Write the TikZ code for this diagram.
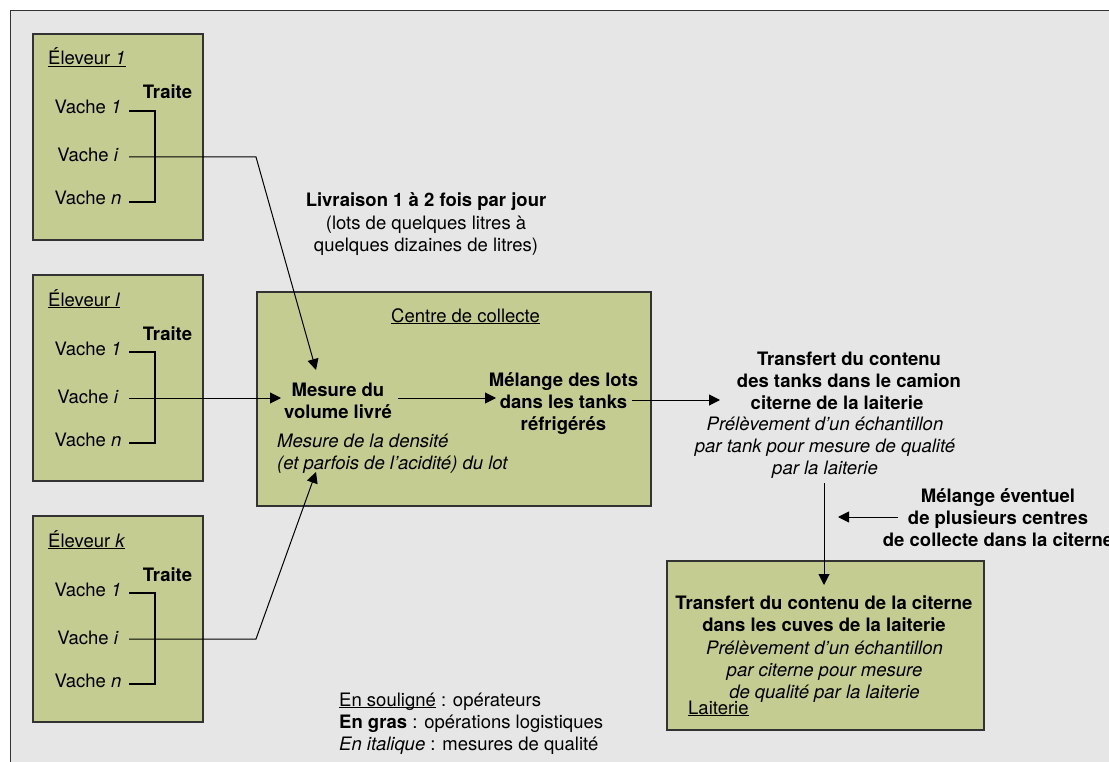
\documentclass[tikz,border=0pt]{standalone}
\usepackage{fontspec}
\setmainfont{TeX Gyre Heros}
\usetikzlibrary{arrows.meta}
\definecolor{bgray}{HTML}{E6E6E6}
\definecolor{boxfill}{HTML}{C4CC91}
\definecolor{boxline}{HTML}{333333}
\newcommand\myfont{\fontsize{18.5}{22.3}\selectfont}
\newcommand\ulu[1]{\underline{\raisebox{0pt}[\height][0pt]{#1}}}
\newcommand\eleveurbox[3]{%
  \node[box, minimum width=170pt, minimum height=206pt] (#1) at (32,#2) {};
  \node[txt, anchor=base west] (#1t) at (48,#2+32) {\ulu{Éleveur \textit{#3}}};
  \node[txtb] (#1tr) at (167.5,#2+66) {Traite};
  \node[txt] (#1a) at (88,#2+81) {Vache \textit{1}};
  \node[txt] (#1b) at (88,#2+129) {Vache \textit{i}};
  \node[txt] (#1c) at (88,#2+172) {Vache \textit{n}};
  \coordinate (#1pa) at (129,#2+78);
  \coordinate (#1pb) at (129,#2+124);
  \coordinate (#1pc) at (129,#2+169);
  \coordinate (#1q) at (155,#2+169);
  \draw[brk] (#1pa) -| (#1q) -- (#1pc);
}
\begin{document}
\begin{tikzpicture}[x=1pt,y=-1pt,
  every node/.style={inner sep=0pt, font=\myfont},
  txt/.style={anchor=base},
  txtb/.style={anchor=base, font=\myfont\bfseries},
  box/.style={draw=boxline, line width=1.6pt, fill=boxfill, anchor=north west},
  brk/.style={draw=black, line width=1.1pt},
  conn/.style={draw=black, line width=1pt},
  arr/.style={conn, -{Triangle[length=11pt,width=11pt]}},
]
\useasboundingbox (0,0) rectangle (1109,762);
\fill[white] (0,0) rectangle (1109,762);
\draw[fill=bgray, draw=black!80, line width=0.9pt] (10,10) rectangle (1140,800);

% boxes of farmers
\eleveurbox{ea}{33}{1}
\eleveurbox{eb}{274}{l}
\eleveurbox{ec}{515}{k}

% collection centre
\node[box, minimum width=394pt, minimum height=214pt] (cc) at (256,291) {};
\node[txt] (cct) at (465.5,322) {\ulu{Centre de collecte}};
\node[txtb, align=center] (mes) at (338,418.3) {Mesure du\\volume livré};
\node[txt, anchor=base west, align=left, font=\myfont\itshape] (dens) at (277,469.3) {Mesure de la densité\\(et parfois de l’acidité) du lot};
\node[txtb, align=center] (mel) at (563.5,430.6) {Mélange des lots\\dans les tanks\\réfrigérés};

% delivery label
\node[txt, align=center] (liv) at (426,251.6) {\textbf{Livraison 1 à 2 fois par jour}\\(lots de quelques litres à\\quelques dizaines de litres)};

% transfer to truck
\node[txtb, align=center] (tr) at (849,409.6) {Transfert du contenu\\des tanks dans le camion\\citerne de la laiterie\hspace*{24pt}};
\node[txt, align=center, font=\myfont\itshape] (trq) at (825,474.6) {Prélèvement d’un échantillon\\par tank pour mesure de qualité\\par la laiterie};

% mixing of several centres
\node[txtb, align=center] (mix) at (998,546.6) {Mélange éventuel\\de plusieurs centres\\de collecte dans la citerne};

% dairy
\node[box, minimum width=317pt, minimum height=169pt] (lait) at (666,560) {};
\node[txtb, align=center] (lt) at (824,631.3) {Transfert du contenu de la citerne\\dans les cuves de la laiterie};
\node[txt, align=center, font=\myfont\itshape] (ltq) at (824.5,698.6) {Prélèvement d’un échantillon\\par citerne pour mesure\\de qualité par la laiterie};
\node[txt, anchor=base west] (ltn) at (688,714) {\ulu{Laiterie}};

% legend
\node[txt, anchor=base west, align=left] (leg) at (339,750.6) {\ulu{En souligné} : opérateurs\\\textbf{En gras} : opérations logistiques\\\textit{En italique} : mesures de qualité};

% connector coordinates
\coordinate (k1) at (256,157);
\coordinate (k3) at (256,639);
\coordinate (mtop) at (316,370);
\coordinate (mleft) at (281,398);
\coordinate (mbot) at (316,472);
\coordinate (m1) at (398,398);
\coordinate (m2) at (496,398);
\coordinate (t1) at (632,400);
\coordinate (t2) at (720,400);
\coordinate (v1) at (824,483);
\coordinate (v2) at (824,585);
\coordinate (x1) at (898,517);
\coordinate (x2) at (838,517);

\draw[arr] (eapb) -- (k1) -- (mtop);
\draw[arr] (ebpb) -- (mleft);
\draw[arr] (ecpb) -- (k3) -- (mbot);
\draw[arr] (m1) -- (m2);
\draw[arr] (t1) -- (t2);
\draw[arr] (v1) -- (v2);
\draw[arr] (x1) -- (x2);
\end{tikzpicture}
\end{document}
